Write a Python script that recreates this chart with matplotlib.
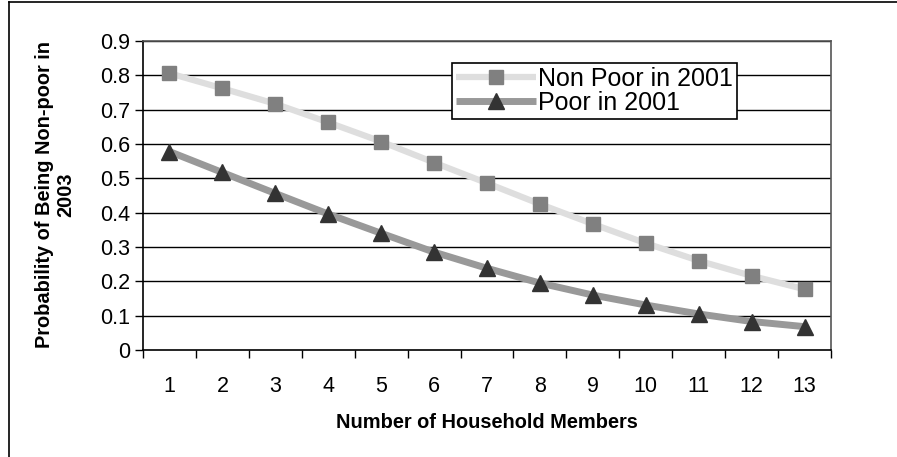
import matplotlib
matplotlib.use("Agg")
import matplotlib.pyplot as plt
from matplotlib.lines import Line2D
import numpy as np

plt.rcParams['font.family'] = ['Liberation Sans', 'DejaVu Sans']

# Data
members = [1, 2, 3, 4, 5, 6, 7, 8, 9, 10, 11, 12, 13]
non_poor_2001 = [0.806, 0.762, 0.717, 0.663, 0.607, 0.546, 0.486, 0.425, 0.367, 0.311, 0.260, 0.216, 0.177]
poor_2001 = [0.578, 0.517, 0.456, 0.396, 0.340, 0.285, 0.238, 0.195, 0.160, 0.131, 0.105, 0.083, 0.068]
y_ticks = [0, 0.1, 0.2, 0.3, 0.4, 0.5, 0.6, 0.7, 0.8, 0.9]
y_tick_labels = ['0', '0.1', '0.2', '0.3', '0.4', '0.5', '0.6', '0.7', '0.8', '0.9']

W, H = 897, 457
fig = plt.figure(figsize=(W / 100, H / 100), dpi=100)
ax = fig.add_axes([143 / W, (H - 350) / H, (831 - 143) / W, (350 - 41) / H])

# gridlines
for v in y_ticks[1:]:
    ax.axhline(v, color='black', lw=1.0, zorder=1)

ax.plot(members, non_poor_2001, color='#dedede', lw=4.5, solid_capstyle='butt',
        marker='s', markersize=10.5, markerfacecolor='#808080', markeredgecolor='#808080',
        zorder=3, label='Non Poor in 2001')
ax.plot(members, poor_2001, color='#999999', lw=5, solid_capstyle='butt',
        marker='^', markersize=11.5, markerfacecolor='#333333', markeredgecolor='#333333',
        zorder=4, label='Poor in 2001')

ax.set_xlim(0.5, 13.5)
ax.set_ylim(0, 0.9)

# category axis: ticks between categories, labels at centres
ax.set_xticks(np.arange(0.5, 14, 1))
ax.set_xticklabels([])
ax.set_xticks(members, minor=True)
ax.set_xticklabels([str(m) for m in members], minor=True, fontsize=15.5)
ax.tick_params(axis='x', which='major', length=6, width=1, direction='out', color='black')
ax.tick_params(axis='x', which='minor', length=0, pad=19)

ax.set_yticks(y_ticks)
ax.set_yticklabels(y_tick_labels, fontsize=15.5)
ax.tick_params(axis='y', length=6, width=1, direction='out', pad=3)

for side in ['left', 'bottom']:
    ax.spines[side].set_color('black')
    ax.spines[side].set_linewidth(1.2)
for side in ['top', 'right']:
    ax.spines[side].set_color('#555555')
    ax.spines[side].set_linewidth(1.2)

ax.set_xlabel('Number of Household Members', fontsize=14.4, fontweight='bold', labelpad=11)
fig.text(55 / W, 1 - 195 / H, 'Probability of Being Non-poor in\n2003', rotation=90,
         ha='center', va='center', fontsize=14.4, fontweight='bold', linespacing=1.2)

leg = ax.legend(loc='upper left', bbox_to_anchor=(452 / W, 1 - 63 / H),
                bbox_transform=fig.transFigure, fontsize=18, frameon=True,
                fancybox=False, edgecolor='black', framealpha=1, borderpad=0.15,
                labelspacing=0.0, handlelength=3.2, handletextpad=0.1, borderaxespad=0)
leg.get_frame().set_linewidth(1.2)

# outer chart border (left and top)
fig.add_artist(Line2D([9 / W, 9 / W], [0, 1 - 2 / H], color='black', lw=1.2))
fig.add_artist(Line2D([9 / W, 1], [1 - 2 / H, 1 - 2 / H], color='black', lw=1.2))

fig.savefig('out.png', dpi=100)
